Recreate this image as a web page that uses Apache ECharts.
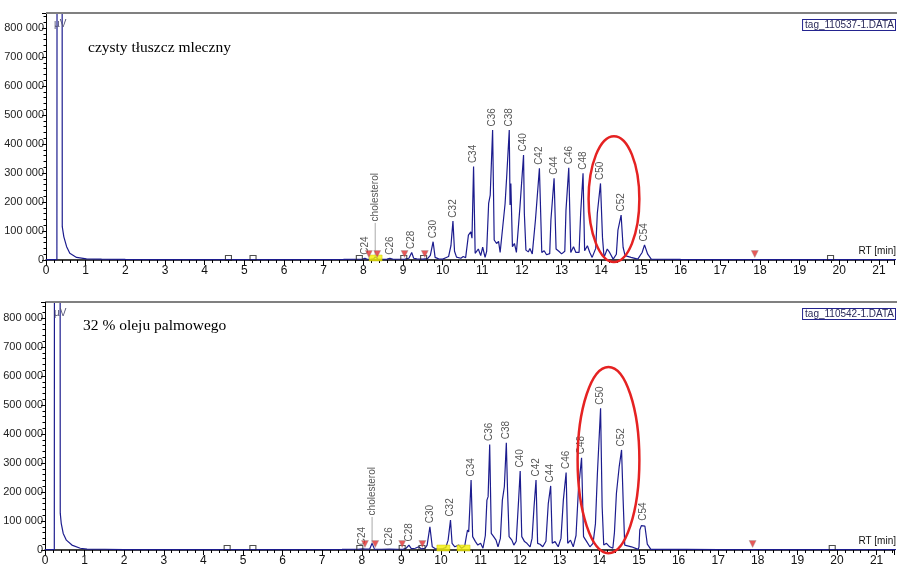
<!DOCTYPE html>
<html>
<head>
<meta charset="utf-8">
<script src="https://cdn.jsdelivr.net/npm/echarts@6/dist/echarts.min.js"></script>
<style>
  html, body { margin: 0; padding: 0; background: #fff; }
  #chart { width: 897px; height: 568px; }
</style>
</head>
<body>
<div id="chart"></div>
<script>
// ---- Chromatogram 1: pure milk fat (RT in min, signal in µV) ----
const topTrace = [
  [0, 1500], [0.275, 1500], [0.285, 3000000], [0.40, 3000000], [0.41, 115000],
  [0.45, 80000], [0.52, 46000], [0.60, 23000], [0.77, 9000], [1.02, 4000],
  [1.4, 3000], [2, 2000], [3, 1500], [4.5, 1500], [6, 1500], [7.5, 2000],
  [7.85, 2500], [7.98, 3000], [8.10, 2500], [8.20, 3000], [8.26, 4000],
  [8.37, 3000], [8.50, 2500], [8.60, 3000], [8.74, 3000], [8.90, 2500],
  [9.05, 3000], [9.15, 6000], [9.27, 6000], [9.35, 4000], [9.50, 3000],
  [9.62, 5000], [9.69, 16000], [9.81, 9000], [9.90, 4000], [10.0, 3000],
  [10.08, 8000], [10.15, 12000], [10.21, 50000], [10.30, 30000], [10.35, 10000],
  [10.40, 14000], [10.46, 6000], [10.52, 12000], [10.58, 8000], [10.65, 86000],
  [10.71, 97000], [10.74, 75000], [10.82, 23000], [10.90, 38000], [10.96, 15000],
  [11.01, 44000], [11.07, 9000], [11.11, 30000], [11.16, 195000], [11.20, 224000],
  [11.30, 69000], [11.36, 57000], [11.41, 64000], [11.45, 26000], [11.50, 21000],
  [11.575, 195000], [11.62, 299000], [11.70, 190000], [11.72, 264000], [11.76, 46000],
  [11.81, 57000], [11.86, 26000], [11.91, 26000], [11.95, 184000], [12.06, 161000],
  [12.10, 34000], [12.16, 28000], [12.20, 40000], [12.26, 21000], [12.31, 22000],
  [12.34, 138000], [12.50, 26000], [12.56, 32000], [12.62, 18000], [12.70, 22000],
  [12.73, 138000], [12.86, 38000], [12.93, 30000], [13.0, 21000], [13.08, 30000],
  [13.11, 172000], [13.23, 26000], [13.30, 46000], [13.36, 26000], [13.44, 26000],
  [13.48, 161000], [13.58, 32000], [13.65, 49000], [13.71, 26000], [13.77, 9000],
  [13.86, 40000], [13.90, 161000], [14.03, 78000], [14.07, 9000], [14.15, 38000],
  [14.21, 26000], [14.30, 3000], [14.38, 20000], [14.42, 103000], [14.55, 44000],
  [14.60, 15000], [14.75, 9000], [14.92, 3000], [15.03, 26000], [15.17, 20000],
  [15.26, 3000], [16, 2000], [17, 1500], [18, 1500], [19, 1500], [20, 1500], [21.5, 1500]
];
const topPeakNames  = ['C24', 'C26', 'C28', 'C30', 'C32', 'C34', 'C36', 'C38', 'C40', 'C42', 'C44', 'C46', 'C48', 'C50', 'C52', 'C54'];
const topPeakRT     = [8.04, 8.67, 9.22, 9.76, 10.26, 10.78, 11.26, 11.68, 12.04, 12.44, 12.81, 13.18, 13.54, 13.98, 14.50, 15.09];
const topPeakHeight = [6000, 6000, 26000, 63000, 134000, 322000, 448000, 448000, 362000, 316000, 282000, 318000, 299000, 264000, 155000, 52000];
const topCholesterol = [8.30, 11000];           // RT, height
const topCholLabelAt = 128000;                  // label foot height
const topTriangles = [8.14, 8.35, 9.04, 9.55, 17.87];
const topBoxes     = [4.6, 5.22, 7.9, 9.02, 9.52, 19.78];
const topYellow    = [8.31];
const topEllipse   = [14.32, 210000, 0.64, 217000]; // centre RT, centre µV, half-width, half-height

// ---- Chromatogram 2: milk fat with 32 % palm oil ----
const botTrace = [
  [0, 1500], [0.235, 1500], [0.245, 3000000], [0.375, 3000000], [0.385, 127000],
  [0.41, 92000], [0.46, 57000], [0.54, 34000], [0.68, 17000], [0.89, 6000],
  [1.06, 3000], [1.5, 2500], [2, 1500], [3, 1500], [4.5, 1500], [6, 1500],
  [7.5, 2000], [7.9, 2500], [8.10, 3000], [8.20, 3500], [8.32, 3000], [8.50, 2500],
  [8.90, 2500], [9.05, 3000], [9.12, 6000], [9.25, 5000], [9.35, 6000], [9.44, 11000],
  [9.50, 4000], [9.60, 6000], [9.65, 17000], [9.78, 11000], [9.85, 5000], [9.95, 3000],
  [10.05, 5000], [10.12, 8000], [10.18, 34000], [10.28, 23000], [10.35, 11000],
  [10.45, 17000], [10.52, 6000], [10.60, 14000], [10.64, 46000], [10.67, 69000],
  [10.70, 62000], [10.80, 46000], [10.87, 29000], [10.93, 17000], [11.0, 23000],
  [11.06, 6000], [11.12, 50000], [11.16, 172000], [11.19, 184000], [11.27, 57000],
  [11.33, 46000], [11.39, 34000], [11.44, 11000], [11.50, 40000], [11.55, 172000],
  [11.60, 218000], [11.68, 207000], [11.72, 46000], [11.79, 34000], [11.84, 17000],
  [11.90, 30000], [11.96, 172000], [12.04, 46000], [12.11, 29000], [12.17, 23000],
  [12.25, 11000], [12.30, 40000], [12.35, 149000], [12.44, 23000], [12.50, 20000],
  [12.57, 11000], [12.65, 30000], [12.71, 161000], [12.81, 23000], [12.88, 29000],
  [12.96, 11000], [13.03, 40000], [13.09, 172000], [13.20, 23000], [13.27, 34000],
  [13.34, 11000], [13.41, 50000], [13.47, 207000], [13.60, 46000], [13.68, 29000],
  [13.76, 11000], [13.84, 23000], [13.90, 90000], [13.95, 264000], [14.07, 149000],
  [14.11, 17000], [14.18, 23000], [14.26, 11000], [14.34, 6000], [14.38, 60000],
  [14.43, 195000], [14.50, 287000], [14.60, 172000], [14.64, 17000], [14.81, 11000],
  [14.98, 2000], [15.0, 11000], [15.02, 69000], [15.06, 84000], [15.15, 82000],
  [15.21, 20000], [15.30, 2000], [16.2, 2000], [17, 1500], [18, 1500], [20, 1500], [21.5, 1500]
];
const botPeakNames  = ['C24', 'C26', 'C28', 'C30', 'C32', 'C34', 'C36', 'C38', 'C40', 'C42', 'C44', 'C46', 'C48', 'C50', 'C52', 'C54'];
const botPeakRT     = [8.02, 8.69, 9.19, 9.72, 10.24, 10.76, 11.23, 11.65, 12.0, 12.40, 12.77, 13.16, 13.55, 14.03, 14.56, 15.10];
const botPeakHeight = [4000, 3000, 17000, 80000, 103000, 241000, 364000, 370000, 272000, 241000, 221000, 267000, 318000, 489000, 345000, 89000];
const botCholesterol = [8.26, 23000];
const botCholLabelAt = 114000;
const botTriangles = [8.08, 8.34, 9.02, 9.53, 17.87];
const botBoxes     = [4.6, 5.25, 7.95, 9.02, 9.52, 19.88];
const botYellow    = [10.06, 10.57];
const botEllipse   = [14.23, 310000, 0.78, 321000];

const yTicks = [0, 100000, 200000, 300000, 400000, 500000, 600000, 700000, 800000];

const LINE = '#1c1c8e';
const LABEL_FONT = "'Liberation Sans', Arial, sans-serif";

// Merge the trace with the labelled apexes and sort by retention time
function buildTrace(trace, rts, hs, extra) {
  const pts = trace.map(p => p.slice());
  rts.forEach((t, i) => pts.push([t, hs[i]]));
  if (extra) pts.push(extra.slice());
  pts.sort((a, b) => a[0] - b[0]);
  return pts;
}

function yLabel(v) {
  if (!yTicks.includes(v)) return '';
  return v === 0 ? '0' : (v / 1000) + ' 000';
}

function xAxisFor(grid, max) {
  return {
    type: 'value', gridIndex: grid, min: 0, max: max, interval: 1,
    axisLine: { show: true, onZero: false, lineStyle: { color: '#000', width: 1.5 } },
    axisTick: { show: true, length: 5, lineStyle: { color: '#000' } },
    minorTick: { show: true, splitNumber: 5, length: 3, lineStyle: { color: '#000' } },
    splitLine: { show: false },
    axisLabel: {
      margin: 5, fontSize: 12, color: '#111', fontFamily: LABEL_FONT,
      formatter: v => Number.isInteger(v) ? String(v) : ''
    }
  };
}
function yAxisFor(grid, max) {
  return {
    type: 'value', gridIndex: grid, min: 0, max: max, interval: 100000,
    axisLine: { show: true, lineStyle: { color: '#000', width: 1 } },
    axisTick: { show: true, length: 4, lineStyle: { color: '#000' } },
    minorTick: { show: true, splitNumber: 5, length: 2.5, lineStyle: { color: '#000' } },
    splitLine: { show: false },
    axisLabel: { margin: 2, fontSize: 11, color: '#222', fontFamily: LABEL_FONT, formatter: yLabel }
  };
}

function peakLabels(idx, names, rts, hs) {
  return {
    type: 'scatter', xAxisIndex: idx, yAxisIndex: idx, symbolSize: 1, silent: true, z: 5,
    itemStyle: { color: 'rgba(0,0,0,0)' },
    data: names.map((n, i) => ({ name: n, value: [rts[i], hs[i]] })),
    label: {
      show: true, position: 'top', distance: 3, rotate: 90, align: 'left', verticalAlign: 'middle',
      formatter: '{b}', fontSize: 10, color: '#2a2a2a', fontFamily: LABEL_FONT
    }
  };
}
function cholesterolParts(idx, chol, labelAt) {
  return [
    {
      type: 'line', xAxisIndex: idx, yAxisIndex: idx, showSymbol: false, silent: true, z: 4,
      lineStyle: { color: '#aaa', width: 1 },
      data: [[chol[0], chol[1]], [chol[0], labelAt]]
    },
    {
      type: 'scatter', xAxisIndex: idx, yAxisIndex: idx, symbolSize: 1, silent: true, z: 5,
      itemStyle: { color: 'rgba(0,0,0,0)' },
      data: [{ name: 'cholesterol', value: [chol[0], labelAt] }],
      label: {
        show: true, position: 'top', distance: 1, rotate: 90, align: 'left', verticalAlign: 'middle',
        formatter: '{b}', fontSize: 10, color: '#2a2a2a', fontFamily: LABEL_FONT
      }
    }
  ];
}
function markers(idx, tri, boxes, yellow) {
  return [
    {
      type: 'scatter', xAxisIndex: idx, yAxisIndex: idx, silent: true, z: 6,
      symbol: 'rect', symbolSize: [13, 6], symbolOffset: [0, -2],
      itemStyle: { color: '#f4f000', borderColor: '#c8c000', borderWidth: 0.5 },
      data: yellow.map(t => [t, 0])
    },
    {
      type: 'scatter', xAxisIndex: idx, yAxisIndex: idx, silent: true, z: 7,
      symbol: 'rect', symbolSize: [6, 5], symbolOffset: [0, -2],
      itemStyle: { color: 'rgba(255,255,255,0)', borderColor: '#222', borderWidth: 1 },
      data: boxes.map(t => [t, 0])
    },
    {
      type: 'scatter', xAxisIndex: idx, yAxisIndex: idx, silent: true, z: 8,
      symbol: 'triangle', symbolRotate: 180, symbolSize: [7, 7], symbolOffset: [0, -6],
      itemStyle: { color: '#e03030', borderColor: '#999', borderWidth: 0.5 },
      data: tri.map(t => [t, 0])
    }
  ];
}

const chart = echarts.init(document.getElementById('chart'), null, { renderer: 'canvas' });

const option = {
  animation: false,
  backgroundColor: '#fff',
  grid: [
    { left: 46, top: 13, width: 851, height: 247 },
    { left: 45, top: 302, width: 852, height: 248 }
  ],
  xAxis: [xAxisFor(0, 21.38), xAxisFor(1, 21.44)],
  yAxis: [yAxisFor(0, 851700), yAxisFor(1, 855000)],
  series: [
    {
      type: 'line', xAxisIndex: 0, yAxisIndex: 0, showSymbol: false, clip: true, z: 3,
      lineStyle: { color: LINE, width: 1.2 },
      data: buildTrace(topTrace, topPeakRT, topPeakHeight, topCholesterol)
    },
    {
      type: 'line', xAxisIndex: 1, yAxisIndex: 1, showSymbol: false, clip: true, z: 3,
      lineStyle: { color: LINE, width: 1.2 },
      data: buildTrace(botTrace, botPeakRT, botPeakHeight, botCholesterol)
    },
    peakLabels(0, topPeakNames, topPeakRT, topPeakHeight),
    peakLabels(1, botPeakNames, botPeakRT, botPeakHeight),
    ...cholesterolParts(0, topCholesterol, topCholLabelAt),
    ...cholesterolParts(1, botCholesterol, botCholLabelAt),
    ...markers(0, topTriangles, topBoxes, topYellow),
    ...markers(1, botTriangles, botBoxes, botYellow)
  ]
};
chart.setOption(option);

// Panel decorations: frame line, captions, file tags, unit labels, highlighted C50–C52 region
function ellipseFor(idx, e) {
  const c = chart.convertToPixel({ xAxisIndex: idx, yAxisIndex: idx }, [e[0], e[1]]);
  const r = chart.convertToPixel({ xAxisIndex: idx, yAxisIndex: idx }, [e[0] + e[2], e[1] + e[3]]);
  return {
    type: 'ellipse', z: 20, silent: true,
    shape: { cx: c[0], cy: c[1], rx: Math.abs(r[0] - c[0]), ry: Math.abs(c[1] - r[1]) },
    style: { fill: 'none', stroke: '#e52222', lineWidth: 2.5 }
  };
}
function panelDecor(top, axisY, caption, tag) {
  return [
    { type: 'line', silent: true, z: 10, shape: { x1: 46, y1: top, x2: 897, y2: top },
      style: { stroke: '#808080', lineWidth: 2 } },
    { type: 'text', silent: true, z: 10, left: 54, top: top + 6,
      style: { text: 'µV', font: "10px 'Liberation Sans', sans-serif", fill: '#555577' } },
    { type: 'text', silent: true, z: 10, left: caption.x, top: top + caption.dy,
      style: { text: caption.text, font: "15.5px 'Liberation Serif', 'Times New Roman', serif", fill: '#000' } },
    { type: 'text', silent: true, z: 10, right: 1, top: top + 6,
      style: { text: tag, font: "10px 'Liberation Sans', sans-serif", fill: '#2b2b5b',
               backgroundColor: '#fff', borderColor: '#23238f', borderWidth: 1, padding: [0, 1, 0, 2] } },
    { type: 'text', silent: true, z: 10, right: 1, top: axisY - 14,
      style: { text: 'RT [min]', font: "10px 'Liberation Sans', sans-serif", fill: '#111' } }
  ];
}

chart.setOption({
  graphic: [
    ...panelDecor(13, 260, { text: 'czysty tłuszcz mleczny', x: 88, dy: 27 }, 'tag_110537-1.DATA'),
    ...panelDecor(302, 550, { text: '32 % oleju palmowego', x: 83, dy: 16 }, 'tag_110542-1.DATA'),
    ellipseFor(0, topEllipse),
    ellipseFor(1, botEllipse)
  ]
});
</script>
</body>
</html>
